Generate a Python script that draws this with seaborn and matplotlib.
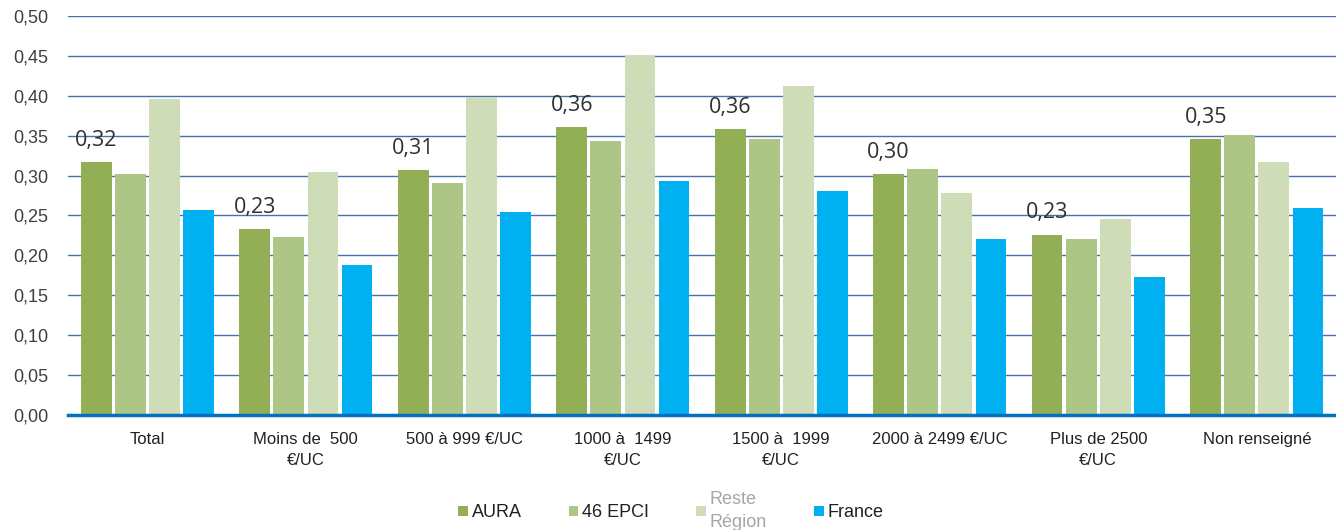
import matplotlib
matplotlib.use("Agg")
import matplotlib.pyplot as plt
import seaborn as sns
import pandas as pd
from matplotlib.patches import Patch

categories = ["Total", "Moins de  500\n€/UC", "500 à 999 €/UC", "1000 à  1499\n€/UC",
              "1500 à  1999\n€/UC", "2000 à 2499 €/UC", "Plus de 2500\n€/UC", "Non renseigné"]
series = ["AURA", "46 EPCI", "Reste\nRégion", "France"]
aura = [0.317, 0.233, 0.307, 0.361, 0.358, 0.302, 0.226, 0.346]
epci = [0.302, 0.223, 0.291, 0.343, 0.346, 0.308, 0.221, 0.351]
reste = [0.396, 0.305, 0.398, 0.451, 0.412, 0.278, 0.245, 0.317]
france = [0.257, 0.188, 0.254, 0.293, 0.280, 0.221, 0.173, 0.259]
colors = ["#92AF55", "#ADC585", "#CFDCB8", "#00B0F0"]
yticks = [0.00, 0.05, 0.10, 0.15, 0.20, 0.25, 0.30, 0.35, 0.40, 0.45, 0.50]

rows = []
for name, vals in zip(series, [aura, epci, reste, france]):
    for cat, v in zip(categories, vals):
        rows.append({"cat": cat, "serie": name, "val": v})
df = pd.DataFrame(rows)

sns.set_theme(style="white")
plt.rcParams["font.family"] = ["Liberation Sans", "DejaVu Sans"]

fig = plt.figure(figsize=(13.36, 5.30), dpi=100)
ax = fig.add_axes([0.051, 0.217, 0.949, 0.753])

sns.barplot(data=df, x="cat", y="val", hue="serie", order=categories, hue_order=series,
            palette=colors, width=0.86, gap=0.1, ax=ax, legend=False, saturation=1,
            edgecolor="none")

ax.set_ylim(0, 0.5)
ax.set_xlim(-0.5, len(categories) - 0.5)
ax.set_yticks(yticks)
ax.set_yticklabels([f"{t:.2f}".replace(".", ",") for t in yticks],
                   fontsize=13, color="#404040")
ax.set_xlabel("")
ax.set_ylabel("")
ax.tick_params(axis="x", length=0, pad=12)
ax.tick_params(axis="y", length=0, pad=14)
for lab in ax.get_xticklabels():
    lab.set_fontsize(12)
    lab.set_color("#202020")
    lab.set_linespacing(1.55)
    lab.set_verticalalignment("top")

ax.grid(axis="y", color="#4A6EB0", linewidth=1.0)
ax.set_axisbelow(True)
for s in ["left", "right", "top"]:
    ax.spines[s].set_visible(False)
ax.spines["bottom"].set_color("#0070C0")
ax.spines["bottom"].set_linewidth(2.5)

# value labels on the AURA series
ax.bar_label(ax.containers[0], labels=[f"{v:.2f}".replace(".", ",") for v in aura],
             padding=8, fontsize=15.5, color="#303030", family=["Open Sans", "DejaVu Sans"])

handles = [Patch(facecolor=c, edgecolor="none") for c in colors]
leg = fig.legend(handles, series, loc="center", bbox_to_anchor=(0.502, 0.036), ncol=4,
                 frameon=False, fontsize=13, handlelength=0.55, handleheight=0.55,
                 handletextpad=0.2, columnspacing=2.6)
for txt in leg.get_texts():
    txt.set_color("#202020")
    txt.set_linespacing(1.5)
leg.get_texts()[2].set_color("#A6A6A6")

fig.savefig("out.png", dpi=100)
